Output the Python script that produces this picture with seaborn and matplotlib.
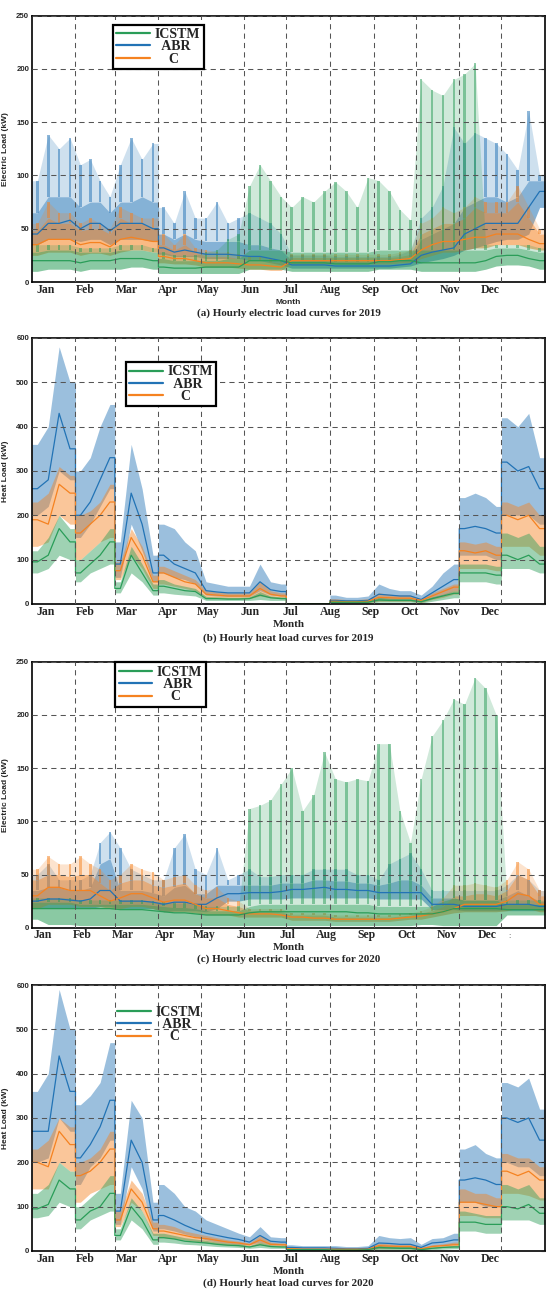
import numpy as np
import pandas as pd
import matplotlib
matplotlib.use('Agg')
import matplotlib.pyplot as plt
from matplotlib.lines import Line2D
import seaborn as sns

# calendar (4 readings per month, roughly weekly)
MONTHS = ['Jan', 'Feb', 'Mar', 'Apr', 'May', 'Jun', 'Jul', 'Aug', 'Sep', 'Oct', 'Nov', 'Dec']
MONTH_DAYS = [31, 28, 31, 30, 31, 30, 31, 31, 30, 31, 30, 31]
SERIES = ['ICSTM', 'ABR', 'C']

# month label positions (hours) as placed in the figure
LABEL_POS = [230, 915, 1625, 2330, 3010, 3720, 4420, 5100, 5785, 6450, 7135, 7825]
LABEL_POS_C = [180, 865, 1555, 2276, 2948, 3663, 4365, 5025, 5716, 6388, 7079, 7769]

# ---------------- (a) electric 2019 (kW) ----------------
e19_abr_lo = [35, 40, 40, 40, 38, 40, 40, 35, 40, 40, 40, 38, 26, 24, 24, 24, 22, 22, 22, 22, 20, 20, 18, 16,
              13, 13, 13, 13, 13, 13, 13, 13, 13, 13, 14, 15, 18, 20, 22, 25, 30, 32, 35, 38, 40, 40, 45, 70]
e19_abr_mid = [45, 55, 55, 58, 50, 55, 55, 48, 55, 55, 55, 50, 32, 28, 30, 28, 26, 26, 26, 25, 24, 24, 22, 20,
               16, 16, 16, 16, 15, 15, 15, 15, 15, 15, 16, 17, 25, 28, 30, 32, 45, 50, 55, 55, 55, 55, 70, 85]
e19_abr_hi = [65, 80, 80, 80, 70, 75, 75, 65, 75, 75, 80, 75, 45, 40, 45, 40, 38, 38, 38, 38, 35, 35, 32, 30,
              20, 20, 20, 20, 19, 19, 19, 19, 19, 19, 21, 23, 40, 45, 50, 55, 70, 75, 80, 80, 75, 80, 95, 95]
e19_abr_pk = [95, 138, 125, 135, 110, 115, 95, 80, 110, 135, 115, 130, 70, 55, 85, 60, 60, 75, 55, 60, 65, 60, 55, 45,
              25, 25, 25, 25, 24, 24, 24, 24, 24, 24, 26, 30, 60, 70, 90, 145, 130, 140, 135, 130, 120, 105, 160, 100]

e19_c_lo = [25, 28, 28, 28, 25, 27, 27, 25, 28, 30, 30, 28, 18, 17, 17, 16, 14, 14, 14, 13, 12, 12, 11, 11,
            17, 17, 17, 17, 17, 17, 17, 17, 17, 17, 18, 18, 22, 25, 28, 28, 30, 32, 32, 35, 35, 35, 32, 30]
e19_c_mid = [35, 40, 40, 40, 35, 37, 37, 33, 40, 42, 40, 38, 24, 22, 22, 20, 18, 18, 18, 17, 16, 16, 15, 14,
             20, 20, 20, 20, 20, 20, 20, 20, 20, 20, 21, 22, 30, 35, 38, 38, 40, 42, 42, 45, 45, 45, 40, 36]
e19_c_hi = [48, 60, 55, 55, 48, 50, 50, 45, 60, 55, 55, 50, 35, 30, 35, 28, 24, 24, 24, 22, 20, 20, 19, 18,
            23, 23, 23, 23, 23, 23, 23, 23, 23, 23, 24, 26, 45, 50, 55, 55, 60, 70, 65, 65, 65, 75, 60, 45]
e19_c_pk = [55, 75, 65, 65, 55, 60, 55, 50, 70, 65, 60, 60, 45, 35, 45, 32, 30, 28, 28, 26, 24, 24, 22, 20,
            26, 26, 26, 26, 26, 26, 26, 26, 26, 26, 28, 30, 55, 60, 70, 65, 70, 80, 75, 75, 75, 90, 70, 50]

e19_ic_lo = [10, 12, 12, 12, 10, 12, 12, 12, 12, 14, 14, 12, 8, 8, 8, 8, 8, 8, 8, 8, 12, 12, 12, 12,
             10, 10, 10, 10, 10, 10, 10, 10, 12, 12, 12, 12, 10, 10, 10, 10, 10, 10, 12, 15, 16, 16, 15, 12]
e19_ic_mid = [20, 20, 20, 20, 18, 20, 20, 20, 22, 22, 22, 20, 14, 13, 13, 13, 14, 14, 14, 14, 20, 20, 20, 20,
              18, 18, 18, 18, 17, 17, 17, 17, 19, 19, 20, 20, 18, 18, 18, 18, 18, 18, 20, 24, 25, 25, 22, 20]
e19_ic_hi = [28, 30, 30, 30, 28, 28, 28, 28, 30, 30, 30, 28, 22, 20, 20, 20, 20, 20, 22, 22, 30, 30, 30, 30,
             28, 28, 28, 28, 28, 28, 28, 28, 30, 30, 30, 30, 30, 30, 30, 30, 30, 30, 30, 32, 32, 32, 30, 28]
e19_ic_pk = [35, 35, 35, 35, 32, 32, 32, 32, 35, 35, 35, 32, 28, 25, 25, 25, 28, 30, 40, 45, 90, 110, 95, 80,
             70, 80, 75, 85, 94, 85, 70, 98, 95, 85, 68, 58, 190, 180, 175, 190, 195, 205, 35, 35, 35, 35, 35, 32]

# ---------------- (b) heat 2019 (kW) ----------------
h19_abr_lo = [200, 220, 300, 280, 150, 180, 220, 260, 60, 180, 120, 50, 70, 60, 55, 45, 20, 18, 17, 17, 17, 30, 20, 18,
              0, 0, 0, 0, 3, 3, 3, 4, 8, 8, 8, 8, 5, 12, 20, 30, 110, 110, 110, 100, 200, 200, 200, 180]
h19_abr_mid = [260, 280, 430, 350, 200, 230, 280, 330, 90, 250, 180, 70, 110, 90, 80, 70, 30, 27, 25, 25, 25, 50, 32, 28,
               0, 0, 0, 0, 8, 7, 7, 8, 22, 20, 18, 18, 10, 25, 40, 55, 170, 175, 170, 160, 320, 300, 310, 260]
h19_abr_hi = [360, 400, 580, 500, 300, 330, 400, 450, 140, 360, 260, 110, 180, 170, 140, 120, 50, 45, 40, 40, 40, 90, 50, 45,
              0, 0, 0, 0, 20, 15, 15, 18, 45, 35, 30, 30, 20, 40, 70, 90, 240, 250, 240, 220, 420, 400, 430, 330]

h19_c_lo = [130, 140, 200, 180, 100, 120, 140, 150, 55, 110, 80, 35, 45, 40, 35, 30, 14, 13, 12, 12, 12, 18, 14, 12,
            0, 0, 0, 0, 3, 3, 3, 3, 6, 6, 6, 6, 3, 10, 15, 22, 80, 80, 80, 75, 130, 130, 130, 110]
h19_c_mid = [190, 180, 270, 250, 160, 180, 200, 230, 75, 150, 110, 50, 70, 60, 50, 45, 22, 20, 18, 18, 18, 35, 22, 18,
             0, 0, 0, 0, 6, 5, 5, 6, 15, 14, 13, 13, 8, 18, 28, 38, 120, 115, 120, 110, 200, 190, 200, 170]
h19_c_hi = [230, 250, 310, 290, 200, 210, 230, 270, 95, 170, 130, 65, 85, 75, 65, 55, 30, 27, 25, 25, 25, 50, 30, 25,
            0, 0, 0, 0, 12, 10, 10, 12, 25, 22, 20, 20, 12, 25, 35, 45, 140, 135, 140, 130, 230, 220, 230, 200]

h19_ic_lo = [70, 80, 110, 100, 50, 70, 80, 90, 25, 70, 50, 20, 25, 22, 20, 18, 8, 8, 8, 8, 8, 10, 8, 8,
             0, 0, 0, 0, 2, 2, 2, 2, 4, 4, 4, 4, 2, 6, 10, 14, 50, 50, 50, 45, 80, 80, 80, 70]
h19_ic_mid = [95, 110, 170, 140, 70, 90, 110, 140, 35, 110, 70, 30, 40, 35, 30, 28, 12, 12, 11, 11, 12, 20, 14, 12,
              0, 0, 0, 0, 4, 4, 4, 4, 9, 8, 8, 8, 5, 12, 18, 24, 70, 70, 70, 65, 110, 100, 110, 90]
h19_ic_hi = [120, 150, 200, 170, 100, 120, 140, 170, 50, 130, 90, 45, 55, 45, 40, 35, 17, 16, 15, 15, 16, 28, 18, 16,
             0, 0, 0, 0, 7, 6, 6, 7, 15, 13, 12, 12, 8, 16, 22, 30, 90, 90, 90, 85, 160, 150, 160, 130]

# ---------------- (c) electric 2020 (kW) ----------------
e20_abr_lo = [18, 18, 18, 18, 18, 18, 20, 20, 18, 18, 18, 18, 15, 16, 16, 16, 15, 18, 25, 25, 27, 27, 27, 27,
              28, 28, 28, 28, 28, 28, 28, 28, 27, 27, 27, 27, 27, 17, 17, 17, 16, 16, 16, 16, 16, 16, 16, 16]
e20_abr_mid = [25, 27, 27, 26, 25, 27, 35, 35, 25, 25, 25, 24, 22, 24, 24, 22, 22, 28, 32, 32, 33, 33, 33, 34,
               36, 36, 37, 38, 36, 36, 35, 35, 33, 33, 33, 33, 33, 22, 22, 22, 20, 20, 20, 20, 22, 22, 22, 20]
e20_abr_hi = [35, 38, 38, 35, 35, 38, 60, 65, 35, 35, 35, 33, 30, 38, 40, 32, 32, 40, 40, 40, 40, 40, 40, 42,
              42, 42, 45, 45, 44, 44, 42, 42, 40, 42, 45, 45, 40, 28, 28, 28, 26, 26, 26, 26, 30, 35, 30, 25]
e20_abr_pk = [50, 60, 45, 45, 45, 50, 80, 90, 75, 55, 50, 45, 45, 75, 88, 55, 50, 75, 45, 50, 55, 48, 48, 50,
              50, 50, 55, 55, 55, 55, 50, 50, 45, 60, 65, 70, 55, 35, 35, 35, 35, 35, 35, 35, 40, 50, 45, 35]

e20_c_lo = [18, 22, 22, 22, 20, 20, 20, 18, 18, 20, 20, 18, 15, 15, 15, 14, 12, 12, 12, 10, 10, 10, 10, 10,
            7, 7, 7, 7, 6, 6, 6, 6, 6, 6, 7, 8, 8, 10, 12, 14, 15, 15, 15, 15, 16, 18, 18, 15]
e20_c_mid = [30, 38, 38, 35, 35, 35, 30, 25, 28, 32, 32, 28, 24, 26, 26, 22, 18, 18, 16, 14, 13, 13, 13, 12,
             10, 10, 9, 9, 8, 8, 8, 8, 8, 8, 9, 10, 11, 13, 15, 18, 22, 22, 22, 22, 25, 32, 30, 22]
e20_c_hi = [45, 50, 50, 48, 50, 50, 42, 35, 42, 45, 45, 40, 38, 40, 42, 32, 28, 28, 22, 20, 16, 16, 16, 15,
            12, 12, 12, 12, 10, 10, 10, 10, 10, 10, 11, 12, 14, 16, 20, 30, 30, 32, 32, 30, 35, 50, 45, 30]
e20_c_pk = [55, 67, 60, 60, 67, 60, 55, 45, 50, 60, 55, 52, 45, 48, 50, 40, 35, 38, 28, 25, 18, 18, 18, 18,
            14, 14, 14, 14, 12, 12, 12, 12, 12, 12, 13, 14, 16, 20, 28, 40, 40, 42, 40, 38, 45, 62, 55, 35]

e20_ic_lo = [8, 3, 3, 3, 2, 2, 2, 2, 2, 2, 2, 2, 2, 2, 2, 2, 2, 2, 2, 2, 2, 2, 2, 2,
             2, 2, 2, 2, 2, 2, 2, 2, 2, 2, 2, 2, 3, 3, 2, 2, 2, 2, 2, 2, 12, 12, 12, 12]
e20_ic_mid = [18, 18, 18, 18, 18, 18, 18, 18, 17, 17, 17, 16, 15, 14, 14, 13, 12, 12, 12, 12, 14, 15, 15, 15,
              15, 15, 15, 15, 15, 15, 14, 14, 13, 13, 13, 13, 13, 13, 15, 18, 18, 18, 18, 18, 17, 17, 17, 17]
e20_ic_hi = [24, 24, 24, 24, 22, 22, 22, 22, 22, 22, 22, 21, 20, 19, 19, 18, 16, 16, 16, 16, 20, 22, 22, 22,
             22, 22, 22, 22, 22, 22, 22, 22, 20, 20, 20, 20, 20, 20, 25, 28, 26, 26, 26, 26, 22, 22, 22, 22]
e20_ic_pk = [28, 28, 28, 28, 26, 26, 26, 26, 26, 26, 26, 25, 24, 23, 23, 22, 20, 20, 20, 20, 112, 115, 120, 135,
             150, 110, 125, 165, 140, 137, 140, 138, 173, 173, 110, 80, 140, 180, 195, 215, 210, 235, 225, 200, 26, 26, 26, 26]

# ---------------- (d) heat 2020 (kW) ----------------
h20_abr_lo = [200, 210, 300, 270, 150, 190, 210, 250, 60, 190, 140, 45, 50, 45, 38, 32, 25, 20, 18, 15, 14, 20, 14, 13,
              3, 3, 3, 3, 2, 2, 2, 3, 6, 6, 6, 6, 3, 10, 12, 15, 110, 110, 100, 100, 200, 190, 190, 170]
h20_abr_mid = [270, 270, 440, 360, 210, 240, 280, 340, 90, 250, 200, 70, 80, 70, 58, 48, 40, 35, 30, 26, 20, 35, 22, 20,
               8, 7, 7, 7, 6, 5, 5, 6, 18, 17, 15, 15, 8, 18, 20, 25, 160, 165, 160, 150, 300, 290, 300, 250]
h20_abr_hi = [360, 400, 590, 500, 330, 350, 380, 470, 130, 340, 300, 110, 150, 130, 100, 90, 70, 60, 50, 40, 32, 55, 32, 30,
              14, 12, 12, 12, 12, 10, 10, 12, 35, 30, 28, 30, 15, 28, 30, 40, 230, 240, 220, 210, 380, 370, 390, 320]

h20_c_lo = [140, 140, 200, 180, 110, 130, 140, 150, 55, 110, 90, 35, 30, 28, 25, 22, 18, 15, 13, 12, 10, 14, 10, 10,
            2, 2, 2, 2, 2, 2, 2, 2, 5, 5, 5, 5, 2, 6, 8, 10, 80, 80, 75, 75, 130, 130, 125, 115]
h20_c_mid = [200, 190, 270, 240, 170, 180, 200, 230, 70, 140, 110, 50, 45, 40, 35, 30, 28, 24, 20, 18, 14, 25, 15, 14,
             5, 4, 4, 4, 4, 4, 4, 4, 12, 11, 10, 10, 5, 10, 12, 14, 110, 110, 105, 100, 180, 170, 180, 160]
h20_c_hi = [230, 250, 300, 280, 200, 210, 230, 270, 90, 160, 130, 65, 60, 55, 45, 40, 35, 30, 25, 22, 18, 35, 20, 18,
            8, 7, 7, 7, 6, 6, 6, 7, 18, 16, 15, 15, 8, 14, 16, 20, 140, 130, 130, 120, 220, 210, 210, 190]

h20_ic_lo = [75, 80, 110, 100, 50, 70, 80, 90, 25, 70, 50, 15, 20, 18, 15, 14, 12, 10, 9, 8, 6, 8, 6, 6,
             1, 1, 1, 1, 1, 1, 1, 1, 3, 3, 3, 3, 1, 3, 4, 5, 45, 45, 40, 40, 70, 70, 70, 60]
h20_ic_mid = [95, 105, 160, 140, 70, 90, 100, 130, 35, 100, 70, 25, 30, 27, 22, 20, 18, 15, 13, 12, 9, 14, 10, 9,
              3, 3, 3, 3, 2, 2, 2, 3, 8, 7, 6, 6, 3, 6, 8, 9, 65, 65, 60, 60, 100, 95, 105, 85]
h20_ic_hi = [130, 150, 200, 180, 100, 120, 140, 170, 50, 120, 90, 40, 40, 35, 30, 27, 24, 20, 18, 16, 12, 20, 14, 12,
             5, 5, 5, 5, 4, 4, 4, 5, 12, 11, 10, 10, 5, 9, 11, 13, 90, 85, 80, 80, 150, 140, 150, 120]

# ---------------- layout helpers ----------------
HOURS = []
BOUNDS = []
start = 0
for d in MONTH_DAYS:
    for k in range(4):
        HOURS.append((start + (k + 0.5) * d / 4) * 24)
    start += d
    BOUNDS.append(start * 24)
BOUNDS = BOUNDS[:-1]
HOURS = np.array(HOURS)


def stepped(values, breaks):
    """Join the weekly readings, jumping straight up/down at the listed month starts."""
    v = np.asarray(values, dtype=float)
    edges = [0] + list(breaks) + [12]
    xs, ys = [], []
    for a, b in zip(edges[:-1], edges[1:]):
        seg = v[4 * a:4 * b]
        x0 = 0 if a == 0 else BOUNDS[a - 1]
        x1 = 8760 if b == 12 else BOUNDS[b - 1]
        xs += [x0] + list(HOURS[4 * a:4 * b]) + [x1]
        ys += [seg[0]] + list(seg) + [seg[-1]]
    return np.array(xs), np.array(ys)


COLORS = {'ICSTM': '#2a9d58', 'ABR': '#2273b5', 'C': '#f58220'}
SERIF = 'Liberation Serif'
SANS = 'Liberation Sans'

panels = [
    dict(kind='elec', rect=[0.058, 0.7819, 0.933, 0.2061], ylim=250, ystep=50,
         ylabel='Electric Load (kW)', caption='(a) Hourly electric load curves for 2019',
         labels=LABEL_POS, month_font=SANS, month_size=6.0, cap_y=-0.117,
         legend=(0.158, 0.966), frame=True, breaks=[3],
         data={'ABR': (e19_abr_lo, e19_abr_mid, e19_abr_hi, e19_abr_pk),
               'C': (e19_c_lo, e19_c_mid, e19_c_hi, e19_c_pk),
               'ICSTM': (e19_ic_lo, e19_ic_mid, e19_ic_hi, e19_ic_pk)}),
    dict(kind='heat', rect=[0.058, 0.5329, 0.933, 0.2057], ylim=600, ystep=100,
         ylabel='Heat Load (kW)', caption='(b) Hourly heat load curves for 2019',
         labels=LABEL_POS, month_font=SERIF, month_size=8.0, cap_y=-0.128,
         legend=(0.183, 0.91), frame=True, breaks=[1, 2, 3, 6, 7, 10, 11],
         data={'ABR': (h19_abr_lo, h19_abr_mid, h19_abr_hi),
               'C': (h19_c_lo, h19_c_mid, h19_c_hi),
               'ICSTM': (h19_ic_lo, h19_ic_mid, h19_ic_hi)}),
    dict(kind='elec', rect=[0.058, 0.2825, 0.933, 0.2057], ylim=250, ystep=50,
         ylabel='Electric Load (kW)', caption='(c) Hourly electric load curves for 2020',
         labels=LABEL_POS_C, month_font=SERIF, month_size=8.0, cap_y=-0.117,
         legend=(0.162, 0.998), frame=True, breaks=[],
         data={'ABR': (e20_abr_lo, e20_abr_mid, e20_abr_hi, e20_abr_pk),
               'C': (e20_c_lo, e20_c_mid, e20_c_hi, e20_c_pk),
               'ICSTM': (e20_ic_lo, e20_ic_mid, e20_ic_hi, e20_ic_pk)}),
    dict(kind='heat', rect=[0.058, 0.0325, 0.933, 0.2057], ylim=600, ystep=100,
         ylabel='Heat Load (kW)', caption='(d) Hourly heat load curves for 2020',
         labels=LABEL_POS, month_font=SERIF, month_size=8.0, cap_y=-0.12,
         legend=(0.16, 0.935), frame=False, breaks=[1, 2, 3, 6, 10, 11],
         data={'ABR': (h20_abr_lo, h20_abr_mid, h20_abr_hi),
               'C': (h20_c_lo, h20_c_mid, h20_c_hi),
               'ICSTM': (h20_ic_lo, h20_ic_mid, h20_ic_hi)}),
]

sns.set_theme(style='white')
plt.rcParams['font.family'] = [SANS, 'DejaVu Sans']

fig = plt.figure(figsize=(5.5, 12.93), dpi=100)

for i, p in enumerate(panels):
    ax = fig.add_axes(p['rect'])
    for name in ['ABR', 'C', 'ICSTM']:
        vals = p['data'][name]
        col = COLORS[name]
        x, lo = stepped(vals[0], p['breaks'])
        _, mid = stepped(vals[1], p['breaks'])
        _, hi = stepped(vals[2], p['breaks'])
        if p['kind'] == 'elec':
            # weekday peaks: a thin translucent spike per weekly reading
            hi_w = np.array(vals[2])
            pk_w = np.array(vals[3])
            ax.bar(HOURS, pk_w - hi_w, bottom=hi_w, width=45, color=col,
                   alpha=0.5, lw=0)
            _, pk = stepped(vals[3], p['breaks'])
            ax.fill_between(x, hi, pk, color=col, alpha=0.22, lw=0)
            ax.fill_between(x, lo, hi, color=col, alpha=0.55, lw=0)
        else:
            ax.fill_between(x, lo, hi, color=col, alpha=0.45, lw=0)
        df = pd.DataFrame({'hour': x, 'load': mid})
        sns.lineplot(data=df, x='hour', y='load', color=col, lw=0.9, ax=ax,
                     estimator=None, sort=False)

    ax.set_xlim(0, 8760)
    ax.set_ylim(0, p['ylim'])
    ax.set_xticks(BOUNDS)
    ax.set_xticklabels([])
    ax.set_xticks(p['labels'], minor=True)
    ax.set_xticklabels(MONTHS, minor=True)
    ax.set_yticks(np.arange(0, p['ylim'] + 1, p['ystep']))
    ax.tick_params(axis='x', which='both', length=0, pad=1.2)
    ax.tick_params(axis='y', direction='in', length=3, width=0.8, right=True,
                   labelsize=5.6, pad=2)
    for t in ax.get_yticklabels():
        t.set_fontweight('bold')
    for t in ax.get_xticklabels(minor=True):
        t.set_fontfamily(SERIF)
        t.set_fontweight('bold')
        t.set_fontsize(8.5)
    ax.grid(True, which='major', color='#555555', ls=(0, (5, 4)), lw=0.75)
    ax.set_axisbelow(False)
    for s in ax.spines.values():
        s.set_color('black')
        s.set_linewidth(1.2)

    ax.set_xlabel('')
    ax.set_ylabel(p['ylabel'], fontsize=6, fontweight='bold', family=SANS)
    ax.yaxis.set_label_coords(-0.045, 0.5)
    ax.text(0.5, -0.076, 'Month', transform=ax.transAxes, ha='center', va='center',
            family=p['month_font'], fontweight='bold', fontsize=p['month_size'])
    ax.text(0.5, p['cap_y'], p['caption'], transform=ax.transAxes, ha='center', va='center',
            family=SERIF, fontweight='bold', fontsize=7.9)
    if i == 2:
        ax.text(8148, -0.034, ':', transform=ax.get_xaxis_transform(), ha='center',
                va='center', fontsize=6, color='#444444')

    handles = [Line2D([], [], color=COLORS[n], lw=1.6) for n in SERIES]
    leg = ax.legend(handles, ['ICSTM', '  ABR', '    C'], loc='upper left',
                    bbox_to_anchor=p['legend'], frameon=p['frame'], fancybox=False,
                    handlelength=2.4, handletextpad=0.35, labelspacing=-0.05,
                    borderpad=0.25, borderaxespad=0,
                    prop={'family': SERIF, 'weight': 'bold', 'size': 10})
    if p['frame']:
        leg.get_frame().set_edgecolor('black')
        leg.get_frame().set_linewidth(1.6)
        leg.get_frame().set_alpha(1)

fig.savefig('out.png', dpi=100)
